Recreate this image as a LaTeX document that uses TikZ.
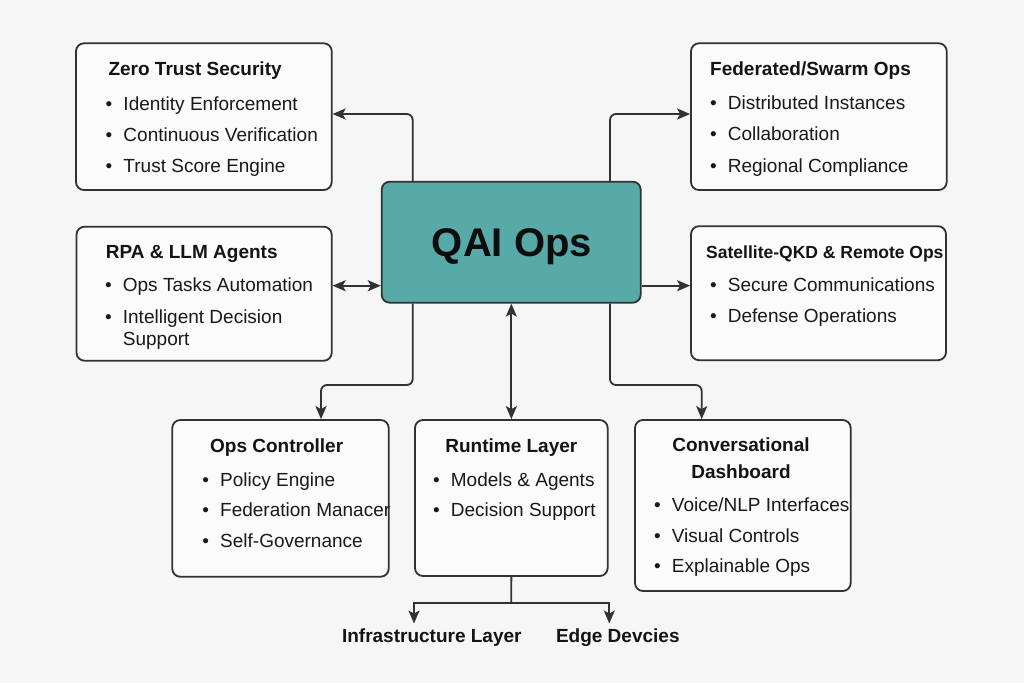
\documentclass[tikz,border=0pt]{standalone}
\usepackage{fontspec}
\setmainfont{Liberation Sans}
\usetikzlibrary{arrows.meta,calc}
\definecolor{bgc}{RGB}{246,246,246}
\definecolor{boxc}{RGB}{251,251,251}
\definecolor{linec}{RGB}{50,50,50}
\definecolor{tealc}{RGB}{88,170,168}
\tikzset{
  box/.style={draw=linec, line width=1.8pt, rounded corners=8pt, fill=boxc, inner sep=0pt},
  corebox/.style={draw=linec, line width=1.8pt, rounded corners=8pt, fill=tealc, inner sep=0pt},
  txt/.style={inner sep=0pt, anchor=base west, text=black!90, font=\fontsize{19}{23}\selectfont},
  ttl/.style={inner sep=0pt, anchor=base west, text=black!92, font=\fontsize{19}{23}\selectfont\bfseries},
  conn/.style={draw=linec, line width=1.8pt, rounded corners=6pt},
  arr/.style={conn, -{Stealth[length=13pt,width=11pt,inset=3pt]}},
  darr/.style={conn, {Stealth[length=13pt,width=11pt,inset=3pt]}-{Stealth[length=13pt,width=11pt,inset=3pt]}}
}
\newcommand\bul[4]{\node[txt] (#1) at ({#2-17.8},#3) {\textbullet\hspace{11.15pt}#4};}
\begin{document}
\begin{tikzpicture}[x=1pt,y=-1pt]
\fill[bgc] (0,0) rectangle (1024,683);
\useasboundingbox (0,0) rectangle (1024,683);

% boxes
\node[box, minimum width=255.7, minimum height=146.7] (zt) at (203.85,116.65) {};
\node[box, minimum width=255.7, minimum height=146.7] (fed) at (818.85,116.65) {};
\node[box, minimum width=255.2, minimum height=134] (rpa) at (204.1,293.7) {};
\node[box, minimum width=255, minimum height=134] (sat) at (818.5,293.2) {};
\node[corebox, minimum width=259, minimum height=121] (core) at (511.2,242.2) {};
\node[box, minimum width=216.4, minimum height=156.7] (ctl) at (280.5,498.35) {};
\node[box, minimum width=192.7, minimum height=156] (rt) at (511.35,498) {};
\node[box, minimum width=215.7, minimum height=171] (conv) at (742.85,505.5) {};

% core label
\node[inner sep=0pt, anchor=base, font=\fontsize{40}{48}\selectfont\bfseries, text=black!95] (qai) at (512,256) {QAI Ops};

% Zero Trust
\node[ttl] (ztt) at (108.3,75.7) {Zero Trust Security};
\bul{zt1}{123.3}{110}{Identity Enforcement}
\bul{zt2}{123.3}{141}{Continuous Verification}
\bul{zt3}{123.3}{172.7}{Trust Score Engine}

% Federated
\node[ttl] (fedt) at (710,75.4) {Federated/Swarm Ops};
\bul{fed1}{727.7}{109.3}{Distributed Instances}
\bul{fed2}{727.7}{140.5}{Collaboration}
\bul{fed3}{727.7}{172}{Regional Compliance}

% RPA
\node[ttl] (rpat) at (105.7,258.3) {RPA \& LLM Agents};
\bul{rpa1}{122.7}{291}{Ops Tasks Automation}
\bul{rpa2}{122.7}{323.5}{Intelligent Decision}
\node[txt] (rpa3) at (122.7,345.7) {Support};

% Satellite
\node[ttl, font=\fontsize{17.5}{21}\selectfont\bfseries] (satt) at (706,258.3) {Satellite-QKD \& Remote Ops};
\bul{sat1}{727.7}{291}{Secure Communications}
\bul{sat2}{727.7}{322.5}{Defense Operations}

% Ops Controller
\node[ttl] (ctlt) at (210,452.3) {Ops Controller};
\bul{ctl1}{220}{486}{Policy Engine}
\bul{ctl2}{220}{516.5}{Federation Manacer}
\bul{ctl3}{220}{547}{Self-Governance}

% Runtime
\node[ttl, anchor=base] (rtt) at (511.3,452.3) {Runtime Layer};
\bul{rt1}{450.7}{486}{Models \& Agents}
\bul{rt2}{450.7}{516.5}{Decision Support}

% Conversational
\node[ttl, anchor=base] (convt1) at (741,451.7) {Conversational};
\node[ttl, anchor=base] (convt2) at (741,478.3) {Dashboard};
\bul{conv1}{671.7}{511}{Voice/NLP Interfaces}
\bul{conv2}{671.7}{542.3}{Visual Controls}
\bul{conv3}{671.7}{572.5}{Explainable Ops}

% bottom labels
\node[ttl, anchor=base] (infra) at (431.8,642.7) {Infrastructure Layer};
\node[ttl, anchor=base] (edge) at (617.8,642.7) {Edge Devcies};

% junction coordinates
\coordinate (j1) at (412.7,114);
\coordinate (j2) at (610,114);
\coordinate (j3) at (0,285.7);
\coordinate (j4) at (321,385);
\coordinate (j5) at (701.7,385);
\coordinate (j6) at (511.3,603.3);
\coordinate (j7) at (414,623.5);
\coordinate (j8) at (609.3,623.5);

% connectors
\draw[arr] (core.north -| j1) |- (zt.east |- j1);
\draw[arr] (core.north -| j2) |- (fed.west |- j2);
\draw[darr] (rpa.east |- j3) -- (core.west |- j3);
\draw[arr] (core.east |- j3) -- (sat.west |- j3);
\draw[arr] (core.south -| j1) |- (j4) -- (j4 |- ctl.north);
\draw[arr] (core.south -| j2) |- (j5) -- (j5 |- conv.north);
\draw[darr] (rt.north |- core.south) -- (rt.north);
\draw[conn] (rt.south) -- (j6);
\draw[arr, rounded corners=0pt] (j6) -| (j7);
\draw[arr, rounded corners=0pt] (j6) -| (j8);
\end{tikzpicture}
\end{document}
